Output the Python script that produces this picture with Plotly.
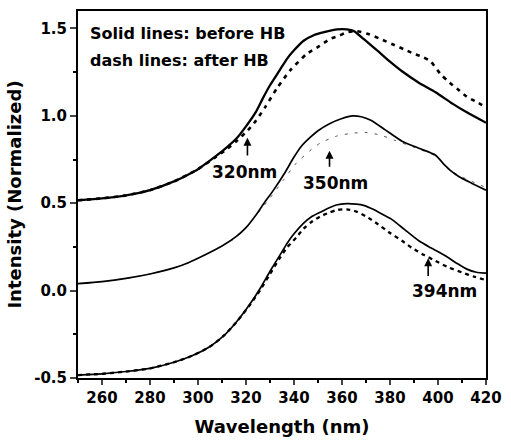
import plotly.graph_objects as go

# ---- data ----
top_solid_x = [250, 260, 270, 280, 290, 296, 300, 307, 312, 316, 320, 324, 327, 330, 334, 337, 340, 344, 348, 353, 358, 362, 365, 369, 375, 380, 385, 392, 399, 406, 412, 416, 420]
top_solid_y = [0.517, 0.528, 0.545, 0.575, 0.625, 0.665, 0.695, 0.765, 0.82, 0.87, 0.94, 1.02, 1.10, 1.175, 1.26, 1.325, 1.375, 1.43, 1.46, 1.48, 1.495, 1.495, 1.485, 1.44, 1.37, 1.31, 1.255, 1.19, 1.135, 1.07, 1.02, 0.99, 0.96]

top_dash_x = [250, 260, 270, 280, 290, 296, 300, 307, 312, 316, 320.6, 324, 328, 333, 338.4, 345.3, 350.7, 355, 359, 362, 366, 371, 376, 381, 386, 390, 394, 397, 401, 404, 408, 412, 416, 420]
top_dash_y = [0.517, 0.528, 0.545, 0.575, 0.625, 0.665, 0.695, 0.76, 0.81, 0.855, 0.915, 0.97, 1.05, 1.16, 1.26, 1.354, 1.40, 1.44, 1.46, 1.478, 1.485, 1.468, 1.44, 1.41, 1.38, 1.355, 1.335, 1.31, 1.24, 1.20, 1.155, 1.11, 1.08, 1.05]

mid_solid_x = [250, 260, 270, 280, 290, 296, 303, 310, 316, 320, 324, 328, 331.6, 336, 339.8, 343, 346.6, 350, 354.8, 360, 364.5, 368, 372, 378, 385, 392, 399, 402, 405, 409, 414, 420]
mid_solid_y = [0.04, 0.052, 0.07, 0.095, 0.13, 0.16, 0.205, 0.255, 0.31, 0.36, 0.43, 0.51, 0.578, 0.67, 0.76, 0.825, 0.875, 0.915, 0.955, 0.985, 1.0, 0.995, 0.975, 0.92, 0.855, 0.815, 0.775, 0.73, 0.69, 0.65, 0.615, 0.575]

mid_dash_x = [250, 260, 270, 280, 290, 296, 303, 310, 316, 323, 330, 335.7, 341, 346.6, 351, 358, 364, 370, 376, 382, 390, 399, 405, 410, 420]
mid_dash_y = [0.04, 0.052, 0.07, 0.095, 0.13, 0.16, 0.205, 0.255, 0.305, 0.41, 0.53, 0.635, 0.73, 0.80, 0.845, 0.885, 0.90, 0.905, 0.89, 0.86, 0.82, 0.77, 0.69, 0.65, 0.59]

bot_solid_x = [250, 260, 270, 280, 290, 298, 305, 311, 316, 322, 326, 330.2, 334, 337.1, 340, 343.9, 347, 350.7, 354, 357.6, 362, 366, 369, 373, 377, 381, 386, 392, 397, 403, 408, 412, 416, 420]
bot_solid_y = [-0.483, -0.476, -0.463, -0.445, -0.41, -0.37, -0.32, -0.255, -0.18, -0.07, 0.015, 0.115, 0.2, 0.27, 0.325, 0.385, 0.42, 0.447, 0.47, 0.49, 0.498, 0.495, 0.488, 0.465, 0.435, 0.405, 0.35, 0.285, 0.245, 0.20, 0.155, 0.123, 0.105, 0.10]

bot_dash_x = [250, 260, 270, 280, 290, 298, 305, 311, 316, 322, 326, 330, 334, 337, 341, 344, 347, 351, 355, 358, 362, 366, 370, 375, 380, 385, 389, 394, 399, 404, 410, 415, 420]
bot_dash_y = [-0.483, -0.476, -0.463, -0.445, -0.41, -0.37, -0.32, -0.255, -0.18, -0.075, 0.005, 0.095, 0.185, 0.245, 0.305, 0.355, 0.39, 0.425, 0.448, 0.462, 0.465, 0.452, 0.425, 0.38, 0.33, 0.285, 0.246, 0.205, 0.17, 0.135, 0.104, 0.08, 0.06]

x_ticks = [260, 280, 300, 320, 340, 360, 380, 400, 420]
y_ticks = [-0.5, 0.0, 0.5, 1.0, 1.5]
y_tick_labels = ["-0.5", "0.0", "0.5", "1.0", "1.5"]

# annotation arrows
arrow_labels = ["320nm", "350nm", "394nm"]
arrow_x = [320.6, 354.8, 395.9]
arrow_tip = [0.875, 0.80, 0.185]
arrow_tail = [0.765, 0.70, 0.075]
label_x = [319.4, 357.2, 402.5]
label_y = [0.68, 0.615, 0.0]

FONT = "DejaVu Sans"

fig = go.Figure()

def add(x, y, width, dash="solid", color="black"):
    fig.add_trace(go.Scatter(x=x, y=y, mode="lines",
                             line=dict(color=color, width=width, dash=dash, shape="spline", smoothing=0.6),
                             showlegend=False, hoverinfo="skip"))

add(top_dash_x, top_dash_y, 2.6, dash="4px,5px")
add(top_solid_x, top_solid_y, 2.3)
add(mid_dash_x, mid_dash_y, 1.0, dash="3px,7px", color="#555555")
add(mid_solid_x, mid_solid_y, 1.7)
add(bot_dash_x, bot_dash_y, 2.3, dash="4px,4px")
add(bot_solid_x, bot_solid_y, 1.7)

for lab, ax_, tip, tail, lx, ly in zip(arrow_labels, arrow_x, arrow_tip, arrow_tail, label_x, label_y):
    fig.add_annotation(x=ax_, y=tip, ax=ax_, ay=tail, xref="x", yref="y",
                       axref="x", ayref="y", showarrow=True, arrowhead=2, arrowsize=1.0,
                       arrowwidth=1.6, arrowcolor="black", text="")
    fig.add_annotation(x=lx, y=ly, xref="x", yref="y", showarrow=False,
                       text=lab, font=dict(family=FONT, size=17, color="black", weight="bold"))

fig.add_annotation(x=0.025, y=1.47, xref="paper", yref="y", xanchor="left", showarrow=False,
                   text="Solid lines: before HB", font=dict(family=FONT, size=16, color="black", weight="bold"))
fig.add_annotation(x=0.025, y=1.318, xref="paper", yref="y", xanchor="left", showarrow=False,
                   text="dash lines: after HB", font=dict(family=FONT, size=16, color="black", weight="bold"))

fig.update_layout(
    width=511, height=445,
    margin=dict(l=78, r=19, t=9, b=67),
    paper_bgcolor="white", plot_bgcolor="white",
    font=dict(family=FONT, color="black"),
)
fig.update_xaxes(range=[250, 420], tickvals=x_ticks, ticks="outside", ticklen=5, tickwidth=1.5,
                 showline=True, linecolor="black", linewidth=2, mirror=True, showgrid=False, zeroline=False,
                 minor=dict(ticks="outside", ticklen=3, dtick=10, tick0=250, tickcolor="black"),
                 tickfont=dict(family=FONT, size=15, weight="bold"),
                 title=dict(text="Wavelength (nm)", font=dict(family=FONT, size=18, weight="bold"), standoff=14))
fig.update_yaxes(range=[-0.5, 1.6], tickvals=y_ticks, ticktext=y_tick_labels, ticks="outside", ticklen=6, tickwidth=1.5,
                 showline=True, linecolor="black", linewidth=2, mirror=True, showgrid=False, zeroline=False,
                 minor=dict(ticks="outside", ticklen=3, dtick=0.25, tick0=-0.5, tickcolor="black"),
                 tickfont=dict(family=FONT, size=15, weight="bold"),
                 title=dict(text="Intensity (Normalized)", font=dict(family=FONT, size=18, weight="bold"), standoff=8))

fig.write_html("out.html", config={"displayModeBar": False},
               post_script="document.body.style.margin='0';")
